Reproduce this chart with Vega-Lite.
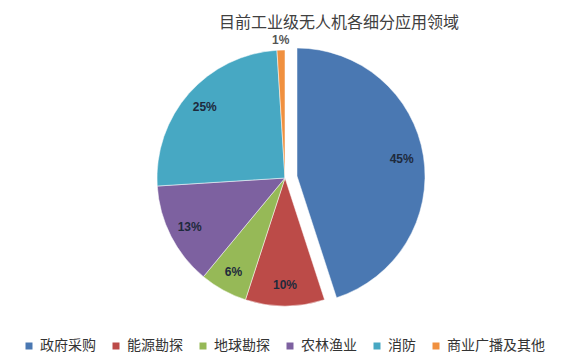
{
  "$schema": "https://vega.github.io/schema/vega-lite/v6.json",
  "width": 570,
  "height": 356,
  "autosize": {"type": "none"},
  "padding": 0,
  "background": "white",
  "title": {
    "text": "目前工业级无人机各细分应用领域",
    "frame": "group",
    "anchor": "middle",
    "dx": 54,
    "dy": 44,
    "offset": 0,
    "baseline": "alphabetic",
    "font": "Noto Sans CJK SC",
    "fontSize": 16,
    "fontWeight": "normal",
    "color": "#404040"
  },
  "data": {
    "values": [
      {"category": "政府采购", "value": 45, "order": 1, "label": "45%"},
      {"category": "能源勘探", "value": 10, "order": 2, "label": "10%"},
      {"category": "地球勘探", "value": 6, "order": 3, "label": "6%"},
      {"category": "农林渔业", "value": 13, "order": 4, "label": "13%"},
      {"category": "消防", "value": 25, "order": 5, "label": "25%"},
      {"category": "商业广播及其他", "value": 1, "order": 6, "label": "1%"}
    ]
  },
  "encoding": {
    "theta": {"field": "value", "type": "quantitative", "stack": true},
    "order": {"field": "order", "type": "quantitative"},
    "color": {
      "field": "category",
      "type": "nominal",
      "scale": {
        "domain": ["政府采购", "能源勘探", "地球勘探", "农林渔业", "消防", "商业广播及其他"],
        "range": ["#4A78B2", "#BC4B48", "#96B957", "#7D61A0", "#47A8C3", "#F0903F"]
      },
      "legend": {
        "title": null,
        "orient": "none",
        "legendX": 22,
        "legendY": 339,
        "direction": "horizontal",
        "symbolType": "square",
        "symbolSize": 49,
        "symbolStrokeWidth": 0,
        "labelFont": "Noto Sans CJK SC",
        "labelFontSize": 14,
        "labelColor": "#333333",
        "labelOffset": 4,
        "columnPadding": 13,
        "labelLimit": 200
      }
    }
  },
  "layer": [
    {
      "mark": {"type": "arc", "outerRadius": 128, "stroke": "white", "strokeWidth": 0.5},
      "encoding": {
        "opacity": {"condition": {"test": "datum.category === '政府采购'", "value": 0}, "value": 1}
      }
    },
    {
      "mark": {"type": "arc", "outerRadius": 128, "xOffset": 12, "yOffset": -2, "stroke": "white", "strokeWidth": 0.5},
      "encoding": {
        "opacity": {"condition": {"test": "datum.category === '政府采购'", "value": 1}, "value": 0}
      }
    },
    {
      "mark": {"type": "text", "radius": 107, "font": "Liberation Sans", "fontSize": 12, "fontWeight": "bold", "fill": "#1E2A3C"},
      "encoding": {
        "text": {"condition": {"test": "datum.order >= 2 && datum.order <= 5", "field": "label"}, "value": ""},
        "color": null
      }
    },
    {
      "mark": {"type": "text", "radius": 106, "xOffset": 12, "yOffset": -2, "font": "Liberation Sans", "fontSize": 12, "fontWeight": "bold", "fill": "#1E2A3C"},
      "encoding": {
        "text": {"condition": {"test": "datum.order == 1", "field": "label"}, "value": ""},
        "color": null
      }
    },
    {
      "mark": {"type": "text", "radius": 138, "font": "Liberation Sans", "fontSize": 12, "fontWeight": "bold", "fill": "#555555"},
      "encoding": {
        "text": {"condition": {"test": "datum.order == 6", "field": "label"}, "value": ""},
        "color": null
      }
    }
  ]
}
